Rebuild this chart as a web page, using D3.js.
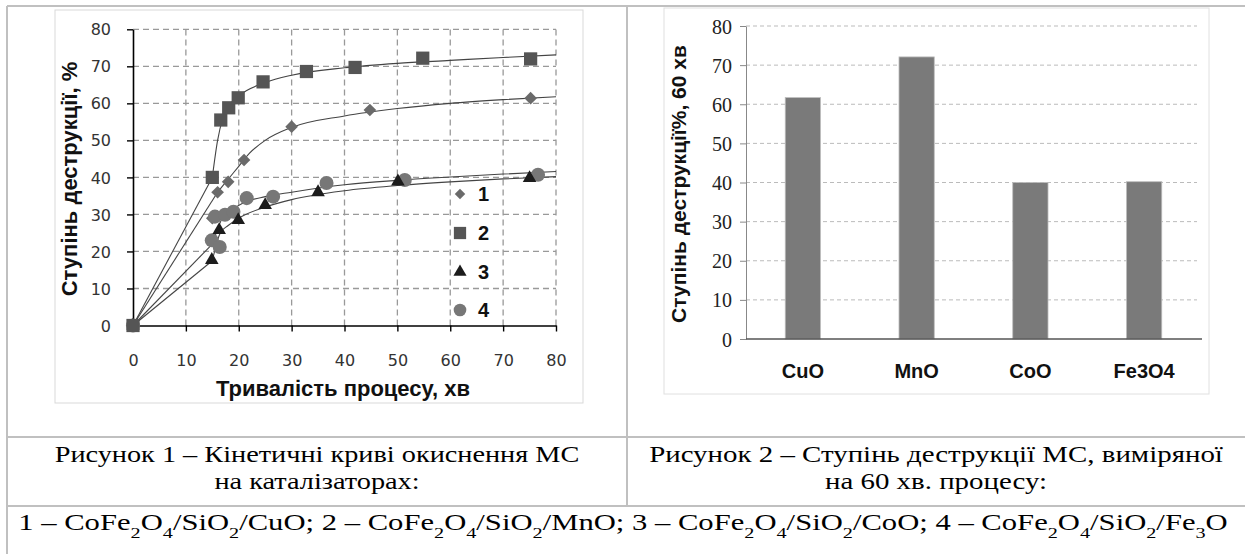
<!DOCTYPE html>
<html><head><meta charset="utf-8">
<script src="https://cdn.jsdelivr.net/npm/d3@7"></script>
<style>body{margin:0;background:#fff}svg{display:block}</style>
</head><body>
<svg id="c" width="1245" height="554"></svg>
<script>
// ---------- Figure 1 data ----------
const xTicks1 = [0,10,20,30,40,50,60,70,80];
const yTicks1 = [0,10,20,30,40,50,60,70,80];
const s1x = [0,15,16,18,21,30,44.8,75.2];
const s1y = [0,29,36,38.8,44.7,53.7,58.2,61.4];
const s2x = [0,15,16.6,18.1,19.9,24.6,32.8,42,54.8,75.2];
const s2y = [0,40,55.5,58.8,61.5,65.8,68.6,69.7,72.2,72];
const s3x = [0,14.9,16.3,19.9,25,35,50.1,75];
const s3y = [0,17.7,25.8,28.5,32.5,36,38.9,39.8];
const s4x = [0,14.9,15.5,16.4,17.4,19,21.5,26.5,36.6,51.4,76.6];
const s4y = [0,23,29.4,21.2,29.9,30.7,34.4,34.8,38.5,39.3,40.7];
// fitted curves
const c1x = [0,16,18,20,22,25,30,40,50,60,70,80];
const c1y = [0,36,39.5,43,46.5,50,53.5,56.6,58.6,60,61,61.8];
const c2x = [0,15,16,17,18,20,25,30,40,50,60,70,80];
const c2y = [0,40,50,56,59,62,65.6,67.6,69.6,70.8,71.6,72.4,73.1];
const c3x = [0,15,16.5,18,20,25,30,40,50,60,70,80];
const c3y = [0,17.5,25,27,29,32,34,36.4,37.8,38.8,39.6,40.2];
const c4x = [0,15,16,17,19,21,25,30,40,50,60,70,80];
const c4y = [0,22,26,29.3,31.5,33.2,34.8,36,38,39.2,40.1,40.9,41.6];
const legendLabels = ["1","2","3","4"];

// ---------- Figure 2 data ----------
const cats2 = ["CuO","MnO","CoO","Fe3O4"];
const vals2 = [61.7,72.1,40.0,40.2];
const yTicks2 = [0,10,20,30,40,50,60,70,80];

const svg = d3.select("#c");

// ---------- table frame ----------
const frame = svg.append("g").attr("stroke","#c0c0c0").attr("stroke-width",2);
frame.append("line").attr("x1",7).attr("x2",1245).attr("y1",6).attr("y2",6);
frame.append("line").attr("x1",7).attr("x2",7).attr("y1",6).attr("y2",554);
frame.append("line").attr("x1",627).attr("x2",627).attr("y1",6).attr("y2",506);
frame.append("line").attr("x1",7).attr("x2",1245).attr("y1",437).attr("y2",437);
frame.append("line").attr("x1",7).attr("x2",1245).attr("y1",506).attr("y2",506);

// chart boxes
svg.append("rect").attr("x",55).attr("y",10).attr("width",528).attr("height",393)
  .attr("fill","none").attr("stroke","#d9d9d9").attr("stroke-width",1);
svg.append("rect").attr("x",664).attr("y",8).attr("width",545).attr("height",386)
  .attr("fill","none").attr("stroke","#e0e0e0").attr("stroke-width",1);

// ---------- Figure 1 ----------
const x1 = d3.scaleLinear().domain([0,80]).range([133,556]);
const y1 = d3.scaleLinear().domain([0,80]).range([325.5,29.3]);
const g1 = svg.append("g");

// grid
g1.append("g").selectAll("line").data(yTicks1.filter(d=>d>0)).join("line")
  .attr("x1",x1(0)).attr("x2",x1(80)).attr("y1",d=>y1(d)).attr("y2",d=>y1(d))
  .attr("stroke","#999").attr("stroke-width",1.3).attr("stroke-dasharray","6,4");
g1.append("g").selectAll("line").data(xTicks1.filter(d=>d>0)).join("line")
  .attr("y1",y1(0)).attr("y2",y1(80)).attr("x1",d=>x1(d)).attr("x2",d=>x1(d))
  .attr("stroke","#999").attr("stroke-width",1.3).attr("stroke-dasharray","6,4");

// axes
const ax1 = g1.append("g").attr("transform",`translate(0,${y1(0)})`)
  .call(d3.axisBottom(x1).tickValues(xTicks1).tickSize(6).tickPadding(23).tickSizeOuter(0));
const ay1 = g1.append("g").attr("transform",`translate(${x1(0)},0)`)
  .call(d3.axisLeft(y1).tickValues(yTicks1).tickSize(6).tickPadding(16).tickSizeOuter(0));
[ax1,ay1].forEach(a=>{
  a.select(".domain").attr("stroke","#000").attr("stroke-width",1.6);
  a.selectAll(".tick line").attr("stroke","#000").attr("stroke-width",1.4);
  a.selectAll("text").attr("font-family","'DejaVu Sans',Verdana,sans-serif")
    .attr("font-size",16).attr("fill","#333");
});
ay1.selectAll("text").attr("dy","0.35em");

// curves: straight segment from origin, smooth afterwards
const lineLin = d3.line().x(d=>x1(d[0])).y(d=>y1(d[1]));
const lineSm = d3.line().x(d=>x1(d[0])).y(d=>y1(d[1])).curve(d3.curveMonotoneX);
const curves = [[c1x,c1y],[c2x,c2y],[c3x,c3y],[c4x,c4y]];
curves.forEach(([cx,cy])=>{
  const pts = cx.map((v,i)=>[v,cy[i]]);
  g1.append("path").datum(pts.slice(0,2)).attr("d",lineLin)
    .attr("fill","none").attr("stroke","#444").attr("stroke-width",1.1);
  g1.append("path").datum(pts.slice(1)).attr("d",lineSm)
    .attr("fill","none").attr("stroke","#444").attr("stroke-width",1.1);
});

// markers
const sym = [
  {x:s1x,y:s1y,type:d3.symbolSquare,size:80,rot:45,fill:"#6a6a6a"},
  {x:s2x,y:s2y,type:d3.symbolSquare,size:175,rot:0,fill:"#555"},
  {x:s3x,y:s3y,type:d3.symbolTriangle,size:80,rot:0,fill:"#1c1c1c"},
  {x:s4x,y:s4y,type:d3.symbolCircle,size:155,rot:0,fill:"#777"}
];
const drawOrder = [0,3,2,1];
drawOrder.forEach(k=>{
  const s = sym[k];
  g1.append("g").selectAll("path").data(s.x.map((v,i)=>[v,s.y[i]])).join("path")
    .attr("d",d3.symbol().type(s.type).size(s.size))
    .attr("transform",d=>`translate(${x1(d[0])},${y1(d[1])}) rotate(${s.rot})`)
    .attr("fill",s.fill);
});

// legend
const legY = [194,233,272,310];
const legSize = [55,150,75,125];
legendLabels.forEach((lab,i)=>{
  const s = sym[i];
  g1.append("path").attr("d",d3.symbol().type(s.type).size(legSize[i]))
    .attr("transform",`translate(460,${legY[i]}) rotate(${s.rot})`).attr("fill",s.fill);
  g1.append("text").attr("x",478).attr("y",legY[i]).attr("dy","0.36em")
    .attr("font-family","'Liberation Sans Narrow','Arial Narrow','Liberation Sans',sans-serif")
    .attr("font-weight","bold").attr("font-size",20).attr("fill","#111").text(lab);
});

// axis titles
g1.append("text").attr("x",343).attr("y",388).attr("dy","0.35em").attr("text-anchor","middle")
  .attr("font-family","'Liberation Sans',Arial,sans-serif").attr("font-weight","bold")
  .attr("font-size",22).attr("fill","#111").text("Тривалість процесу, хв");
g1.append("text").attr("transform","translate(69,179) rotate(-90)").attr("dy","0.35em")
  .attr("text-anchor","middle")
  .attr("font-family","'Liberation Sans',Arial,sans-serif").attr("font-weight","bold")
  .attr("font-size",22).attr("fill","#111").text("Ступінь деструкції, %");

// ---------- Figure 2 ----------
const x2 = d3.scaleBand().domain(cats2).range([746,1201]).paddingInner(0.69).paddingOuter(0.345);
const y2 = d3.scaleLinear().domain([0,80]).range([339,26]);
const g2 = svg.append("g");
g2.append("g").selectAll("line").data(yTicks2.filter(d=>d>0)).join("line")
  .attr("x1",746).attr("x2",1197).attr("y1",d=>y2(d)).attr("y2",d=>y2(d))
  .attr("stroke","#bbb").attr("stroke-width",1).attr("stroke-dasharray","4,3");
g2.append("g").selectAll("rect").data(cats2).join("rect")
  .attr("x",d=>x2(d)).attr("width",x2.bandwidth())
  .attr("y",(d,i)=>y2(vals2[i])).attr("height",(d,i)=>y2(0)-y2(vals2[i]))
  .attr("fill","#7a7a7a").attr("stroke","#bdbdbd").attr("stroke-width",0.8);
const ay2 = g2.append("g").attr("transform","translate(746,0)")
  .call(d3.axisLeft(y2).tickValues(yTicks2).tickSize(6).tickPadding(8).tickSizeOuter(0));
ay2.select(".domain").attr("stroke","#888").attr("stroke-width",1);
ay2.selectAll(".tick line").attr("stroke","#888");
ay2.selectAll("text").attr("font-family","'Liberation Serif','DejaVu Serif',serif")
  .attr("font-size",20).attr("fill","#222").attr("dy","0.35em");
const ax2 = g2.append("g").attr("transform",`translate(0,${y2(0)})`)
  .call(d3.axisBottom(x2).tickSize(0).tickPadding(25));
ax2.select(".domain").attr("stroke","#555").attr("stroke-width",1.3).attr("d","M746,0H1202");
ax2.selectAll("text").attr("font-family","'Liberation Sans',Arial,sans-serif")
  .attr("font-weight","bold").attr("font-size",20).attr("fill","#111");
g2.append("text").attr("transform","translate(679,184) rotate(-90)").attr("dy","0.35em")
  .attr("text-anchor","middle")
  .attr("font-family","'Liberation Sans',Arial,sans-serif").attr("font-weight","bold")
  .attr("font-size",21).attr("fill","#111").text("Ступінь деструкції%, 60 хв");

// ---------- captions (Times-like, horizontally stretched to the reference widths) ----------
const capFont = "'Liberation Serif','Times New Roman',serif";
function cap(cx,y,parts,size,width,fixedScale){
  const g = svg.append("g");
  const t = g.append("text").attr("x",0).attr("y",0).attr("text-anchor","middle")
    .attr("font-family",capFont).attr("font-size",size).attr("fill","#000");
  parts.forEach(p=>{
    if (typeof p === "string") t.append("tspan").text(p);
    else t.append("tspan").attr("baseline-shift","sub").attr("font-size",size*0.66).text(p.s);
  });
  let sx = fixedScale;
  if (!sx) { const w = t.node().getComputedTextLength(); sx = w ? width / w : 1.25; }
  g.attr("transform",`translate(${cx},${y}) scale(${sx},1)`);
  return sx;
}
const sub = s=>({s});
const k1 = cap(317,462,["Рисунок 1 – Кінетичні криві окиснення МС"],23,525);
cap(317,489,["на каталізаторах:"],23,0,k1);
const k2 = cap(936,462,["Рисунок 2 – Ступінь деструкції МС, виміряної"],23,574);
cap(936,489,["на 60 хв. процесу:"],23,0,k2);
cap(623,530,[
  "1 – CoFe",sub("2"),"O",sub("4"),"/SiO",sub("2"),"/CuO; 2 – CoFe",sub("2"),"O",sub("4"),"/SiO",sub("2"),
  "/MnO; 3 – CoFe",sub("2"),"O",sub("4"),"/SiO",sub("2"),"/CoO; 4 – CoFe",sub("2"),"O",sub("4"),"/SiO",sub("2"),"/Fe",sub("3"),"O"
],23,1210);
</script>
</body></html>
